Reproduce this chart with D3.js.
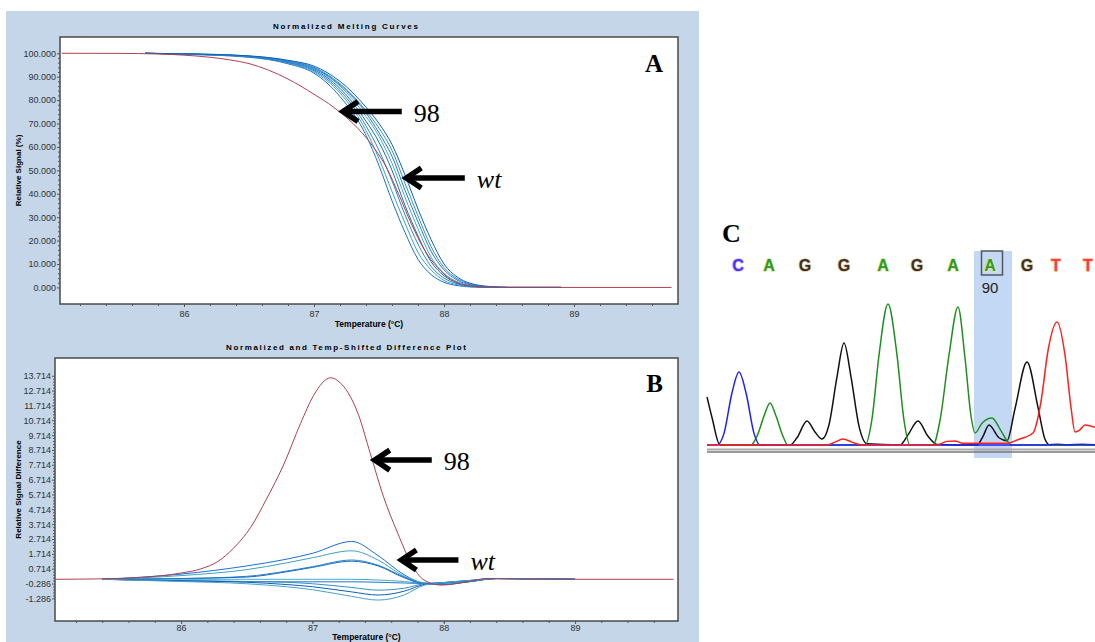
<!DOCTYPE html>
<html>
<head>
<meta charset="utf-8">
<title>HRM melting curves</title>
<script src="https://d3js.org/d3.v7.min.js"></script>
<style>
body { margin: 0; background: #fff; }
svg { display: block; font-family: Arial, "Liberation Sans", sans-serif; }
</style>
</head>
<body>
<script>
// ---- panel A : normalized melting curves ----
var aTickVals = [0, 10, 20, 30, 40, 50, 60, 70, 80, 90, 100];
var tempTicks = [86, 87, 88, 89];
var aBlueTemps = [85.7, 86.0, 86.5, 86.8, 87.0, 87.2, 87.4, 87.5, 87.6, 87.7, 87.8, 87.9, 88.0, 88.1, 88.2, 88.35, 88.5, 88.9];
var aBlue = [
  [100, 99.6, 98.3, 95.5, 91.5, 81.5, 65, 52, 37, 23.5, 12, 5.5, 2.2, 0.8, 0.2, 0, 0, 0],
  [100, 99.6, 98.4, 95.8, 92, 83, 67, 55, 41, 27.5, 15, 7.5, 3, 1.2, 0.4, 0.05, 0, 0],
  [100, 99.7, 98.5, 96, 92.5, 84, 69, 58.5, 45.5, 31, 18.5, 9, 4, 1.6, 0.5, 0.1, 0, 0],
  [100, 99.7, 98.6, 96.3, 93, 85, 71, 62, 50, 35, 22, 11, 5, 2, 0.7, 0.1, 0, 0],
  [100, 99.7, 98.7, 96.5, 93.4, 86, 73, 64.5, 53, 38.5, 25, 13, 6, 2.5, 0.9, 0.15, 0, 0],
  [100, 99.7, 98.7, 96.6, 93.7, 86.5, 74.5, 66, 56, 41.5, 28, 15.5, 7.5, 3.2, 1.2, 0.2, 0, 0],
  [100, 99.8, 98.8, 96.8, 94, 87, 75.5, 68, 58.5, 44.5, 30.5, 17.5, 8.5, 3.8, 1.5, 0.3, 0, 0],
  [100, 99.8, 98.9, 97, 94.5, 88, 77, 70, 61, 48, 33.5, 20.5, 10, 4.5, 1.8, 0.4, 0, 0]
];
var aRedTemps = [85.06, 85.5, 85.8, 86.0, 86.2, 86.35, 86.5, 86.65, 86.8, 87.0, 87.15, 87.3, 87.45, 87.55, 87.65, 87.75, 87.85, 87.95, 88.05, 88.15, 88.3, 88.5, 89.0, 89.75];
var aRed = [100, 99.95, 99.7, 99.2, 98.3, 97.2, 95.6, 92.8, 89, 82.5, 77, 70, 60.5, 52, 40, 27, 16, 8.5, 3.5, 1.2, 0.2, 0, 0, 0];

// ---- panel B : difference plot ----
var bTickVals = [-1.286, -0.286, 0.714, 1.714, 2.714, 3.714, 4.714, 5.714, 6.714, 7.714, 8.714, 9.714, 10.714, 11.714, 12.714, 13.714];
var bBlueTemps = [85.4, 86.0, 86.5, 86.8, 87.0, 87.3, 87.5, 87.7, 87.85, 88.0, 88.2, 88.4, 88.6, 89.0];
var bBlue = [
  [0, 0.35, 0.9, 1.35, 1.75, 2.55, 1.6, 0.3, -0.25, -0.3, -0.15, 0.05, 0.05, 0],
  [0, 0.25, 0.65, 1.1, 1.45, 1.92, 1.3, 0.2, -0.25, -0.32, -0.15, 0.05, 0.05, 0],
  [0, 0.05, 0.2, 0.55, 0.85, 1.3, 0.95, 0.15, -0.3, -0.35, -0.15, 0.05, 0.05, 0],
  [0, 0.05, 0.15, 0.5, 0.8, 1.22, 0.9, 0.1, -0.3, -0.33, -0.15, 0.05, 0.05, 0],
  [0, 0, 0, 0, 0, 0, -0.05, -0.15, -0.28, -0.3, -0.12, 0.05, 0.03, 0],
  [0, -0.1, -0.15, -0.17, -0.17, -0.17, -0.2, -0.25, -0.28, -0.25, -0.1, 0.05, 0.03, 0],
  [0, -0.1, -0.15, -0.2, -0.3, -0.55, -0.73, -0.6, -0.3, -0.22, -0.08, 0.05, 0.03, 0],
  [0, -0.1, -0.2, -0.35, -0.5, -0.85, -1.06, -0.8, -0.35, -0.22, -0.08, 0.05, 0.03, 0],
  [0, -0.15, -0.3, -0.5, -0.7, -1.15, -1.4, -1.05, -0.4, -0.22, -0.08, 0.05, 0.03, 0]
];
var bRedTemps = [85.04, 85.4, 85.7, 86.0, 86.15, 86.28, 86.4, 86.53, 86.65, 86.78, 86.91, 87.01, 87.14, 87.21, 87.27, 87.35, 87.44, 87.54, 87.65, 87.75, 87.85, 87.98, 88.18, 88.33, 88.6, 89.0, 89.75];
var bRed = [0, 0.03, 0.13, 0.42, 0.7, 1.2, 2.1, 3.5, 5.4, 7.7, 10.5, 12.4, 13.58, 13.25, 12.6, 11.1, 8.5, 5.6, 3.1, 1.1, -0.05, -0.39, -0.17, 0.06, 0.02, 0, 0];

// ---- panel C : sequencing trace ----
var seqBases = ["C", "A", "G", "G", "A", "G", "A", "A", "G", "T", "T"];
var basePos = [31, 62, 98, 137, 176, 210, 246, 283, 320, 349, 381];
var traceBlack = [[0, 331], [5, 190], [13, 0], [83, 0], [90, 50], [100, 166], [108, 90], [115, 41], [122, 140], [130, 470], [137, 703], [144, 470], [152, 130], [160, 8], [193, 0], [201, 70], [211, 166], [221, 60], [230, 4], [270, 0], [276, 60], [282, 138], [292, 50], [300, 30], [308, 250], [320, 572], [331, 260], [338, 40], [343, 0], [388, 0]];
var traceGreen = [[45, 0], [50, 60], [57, 200], [63, 290], [69, 200], [76, 60], [81, 0], [158, 0], [165, 180], [172, 620], [181, 972], [190, 620], [197, 170], [203, 0], [226, 0], [233, 170], [242, 620], [251, 952], [258, 600], [264, 200], [268, 83], [275, 150], [285, 186], [293, 110], [300, 30], [305, 0], [388, 0]];
var traceBlue = [[0, 0], [10, 0], [17, 80], [25, 360], [32, 503], [39, 360], [47, 80], [53, 0], [340, 0], [350, 6], [360, 0], [375, 6], [388, 2]];
var traceRed = [[0, 0], [120, 0], [128, 20], [136, 41], [145, 20], [155, 0], [230, 0], [240, 25], [248, 28], [256, 12], [300, 12], [312, 40], [326, 83], [334, 300], [341, 650], [350, 848], [358, 620], [364, 260], [368, 90], [373, 105], [378, 138], [385, 128], [388, 122]];

var w = 1095, h = 642;
var svg = d3.select("body").append("svg").attr("width", w).attr("height", h);

var fmt = d3.formatLocale({decimal: ".", thousands: ",", grouping: [3], currency: ["", ""], minus: "-"}).format(".3f");
var blues = ["#1a6fd8", "#3f9fc6", "#2b86c9", "#156ac0", "#4aa8c8", "#1f78d1", "#3591c4", "#0e5fb8", "#47a2cc"];

// blue software background behind A and B
svg.append("rect").attr("x", 6).attr("y", 11).attr("width", 693).attr("height", 631).attr("fill", "#c4d6e7");

function panel(p) {
  var x = d3.scaleLinear().domain(p.xdom).range([p.left, p.right]);
  var y = d3.scaleLinear().domain(p.ydom).range([p.bottom, p.top]);
  svg.append("rect").attr("x", p.left).attr("y", p.top)
    .attr("width", p.right - p.left).attr("height", p.bottom - p.top)
    .attr("fill", "#fff").attr("stroke", "#4a4a4a").attr("stroke-width", 1.5);

  var minor = [];
  for (var i = 0; i < p.yticks.length - 1; i++) {
    var st = (p.yticks[i + 1] - p.yticks[i]) / 5;
    for (var k = 1; k < 5; k++) minor.push(p.yticks[i] + st * k);
  }
  var ya = svg.append("g").attr("transform", "translate(" + p.left + ",0)")
    .call(d3.axisLeft(y).tickValues(p.yticks).tickSize(3).tickPadding(1).tickFormat(fmt));
  svg.append("g").attr("transform", "translate(" + p.left + ",0)")
    .call(d3.axisLeft(y).tickValues(minor).tickSize(2).tickFormat(""))
    .select(".domain").remove();
  ya.select(".domain").remove();

  var xminor = [];
  for (var t = 85.2; t < 89.8; t += 0.2) xminor.push(+t.toFixed(1));
  var xa = svg.append("g").attr("transform", "translate(0," + p.bottom + ")")
    .call(d3.axisBottom(x).tickValues(tempTicks).tickSize(3).tickPadding(p.xpad).tickFormat(d3.format("d")));
  svg.append("g").attr("transform", "translate(0," + p.bottom + ")")
    .call(d3.axisBottom(x).tickValues(xminor).tickSize(2).tickFormat(""))
    .select(".domain").remove();
  xa.select(".domain").remove();
  svg.selectAll(".tick text").attr("font-size", 9).attr("fill", "#333").attr("font-family", "Arial, sans-serif");
  svg.selectAll(".tick line").attr("stroke", "#555");

  svg.append("text").attr("x", p.tx).attr("y", p.ty).attr("font-size", 8).attr("font-weight", "bold")
    .attr("textLength", p.tlen).attr("lengthAdjust", "spacing").text(p.title);
  svg.append("text").attr("transform", "translate(" + 21 + "," + ((p.top + p.bottom) / 2) + ") rotate(-90)")
    .attr("text-anchor", "middle").attr("font-size", 8).attr("font-weight", "bold").text(p.ylabel);
  svg.append("text").attr("x", (p.left + p.right) / 2).attr("y", p.xly)
    .attr("text-anchor", "middle").attr("font-size", 8.5).attr("font-weight", "bold").text("Temperature (°C)");

  var line = d3.line().x(function (d) { return x(d[0]); }).y(function (d) { return y(d[1]); }).curve(d3.curveMonotoneX);
  var g = svg.append("g");
  g.selectAll("path.blue").data(p.blue).enter().append("path")
    .attr("d", function (d) { return line(d3.zip(p.blueT, d)); })
    .attr("fill", "none").attr("stroke", function (d, i) { return blues[i % blues.length]; }).attr("stroke-width", 1);
  g.append("path").attr("d", line(d3.zip(p.redT, p.red)))
    .attr("fill", "none").attr("stroke", "#b0404e").attr("stroke-width", 1);
  return {x: x, y: y};
}

function arrow(sx, sy, tipT, tailT, v, label, italic) {
  var tx = sx(tipT), ty = sy(v), ex = sx(tailT);
  var g = svg.append("g").attr("stroke", "#000").attr("fill", "none");
  g.append("line").attr("x1", tx + 4).attr("y1", ty).attr("x2", ex).attr("y2", ty).attr("stroke-width", 5.5);
  g.append("path").attr("d", "M" + (tx + 18) + "," + (ty - 10) + "L" + (tx + 3) + "," + ty + "L" + (tx + 18) + "," + (ty + 10))
    .attr("stroke-width", 5.5).attr("stroke-linejoin", "miter");
  svg.append("text").attr("x", ex + 12).attr("y", ty + 10).attr("font-family", "'Liberation Serif', 'Times New Roman', serif")
    .attr("font-size", 26).attr("font-style", italic ? "italic" : "normal").text(label);
}

var A = panel({left: 60, right: 678, top: 37, bottom: 304, xdom: [85.046, 89.8], ydom: [-7.08, 106.95],
  yticks: aTickVals, xpad: 4, title: "Normalized Melting Curves", tx: 273, ty: 29, tlen: 145,
  ylabel: "Relative Signal (%)", xly: 327, blueT: aBlueTemps, blue: aBlue, redT: aRedTemps, red: aRed});
var B = panel({left: 55, right: 678, top: 358, bottom: 621, xdom: [85.04, 89.784], ydom: [-2.81, 14.91],
  yticks: bTickVals, xpad: 1, title: "Normalized and Temp-Shifted Difference Plot", tx: 226, ty: 350, tlen: 240,
  ylabel: "Relative Signal Difference", xly: 640, blueT: bBlueTemps, blue: bBlue, redT: bRedTemps, red: bRed});

arrow(A.x, A.y, 87.2, 87.675, 75.1, "98", false);
arrow(A.x, A.y, 87.687, 88.16, 46.7, "wt", true);
arrow(B.x, B.y, 87.452, 87.909, 8.03, "98", false);
arrow(B.x, B.y, 87.655, 88.112, 1.3, "wt", true);

var serif = "'Liberation Serif', 'Times New Roman', serif";
svg.append("text").attr("x", 663).attr("y", 72).attr("text-anchor", "end").attr("font-family", serif)
  .attr("font-weight", "bold").attr("font-size", 25).text("A");
svg.append("text").attr("x", 663).attr("y", 392).attr("text-anchor", "end").attr("font-family", serif)
  .attr("font-weight", "bold").attr("font-size", 25).text("B");

// ---- panel C ----
var cx = d3.scaleLinear().domain([0, 388]).range([707, 1095]);
var cy = d3.scaleLinear().domain([0, 1000]).range([445, 300]);
var hi = basePos[7];
svg.append("rect").attr("x", cx(hi - 16)).attr("y", 251).attr("width", cx(hi + 22) - cx(hi - 16)).attr("height", 207)
  .attr("fill", "#bcd4f4").attr("opacity", 0.9);
svg.append("rect").attr("x", cx(hi - 8.5)).attr("y", 251).attr("width", 21).attr("height", 24)
  .attr("fill", "none").attr("stroke", "#555").attr("stroke-width", 1.5);
svg.append("text").attr("x", 722).attr("y", 242).attr("font-family", serif).attr("font-weight", "bold")
  .attr("font-size", 26).text("C");

var baseColor = {A: "#2a9a2a", C: "#3b3bf0", G: "#333333", T: "#ff3b3b"};
var baseGlow = {A: "#e8e49a", C: "#e8b0f0", G: "#f0c890", T: "#ffc0a0"};
svg.selectAll("text.base").data(seqBases).enter().append("text")
  .attr("x", function (d, i) { return cx(basePos[i]); }).attr("y", 271)
  .attr("text-anchor", "middle").attr("font-size", 16).attr("font-weight", "bold")
  .attr("stroke", function (d) { return baseGlow[d]; }).attr("stroke-width", 1.5).attr("paint-order", "stroke")
  .attr("fill", function (d) { return baseColor[d]; }).text(function (d) { return d; });
svg.append("text").attr("x", cx(hi)).attr("y", 293).attr("text-anchor", "middle").attr("font-size", 15)
  .attr("fill", "#222").text("90");

svg.append("line").attr("x1", 707).attr("x2", 1095).attr("y1", 449.5).attr("y2", 449.5).attr("stroke", "#aaa").attr("stroke-width", 2);
svg.append("line").attr("x1", 707).attr("x2", 1095).attr("y1", 452).attr("y2", 452).attr("stroke", "#777").attr("stroke-width", 1.5);

var tline = d3.line().x(function (d) { return cx(d[0]); }).y(function (d) { return cy(d[1]); }).curve(d3.curveMonotoneX);
var traces = [[traceBlack, "#111"], [traceGreen, "#1f8f1f"], [traceBlue, "#2020ff"], [traceRed, "#ff2020"]];
svg.selectAll("path.trace").data(traces).enter().append("path")
  .attr("d", function (d) { return tline(d[0]); })
  .attr("fill", "none").attr("stroke", function (d) { return d[1]; }).attr("stroke-width", 1.5);
</script>
</body>
</html>
